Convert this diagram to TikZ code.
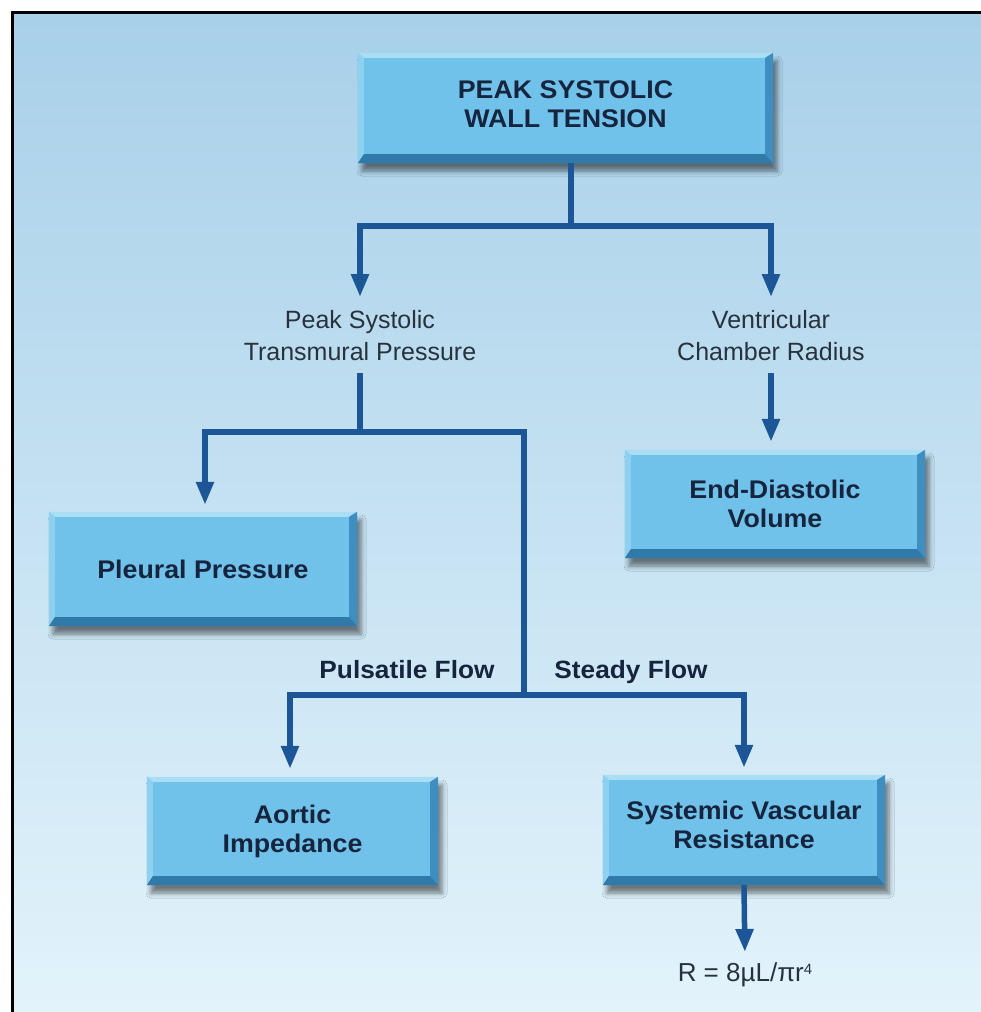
\documentclass[tikz,border=0pt]{standalone}
\usepackage{fontspec}
\setmainfont{Liberation Sans}[BoldFeatures={FakeStretch=1.05}]
\usetikzlibrary{arrows.meta,calc,shadows.blur}
\definecolor{bgtop}{RGB}{168,208,233}
\definecolor{bgbot}{RGB}{226,243,251}
\definecolor{face}{RGB}{112,194,234}
\definecolor{bvT}{RGB}{170,222,244}
\definecolor{bvL}{RGB}{142,208,240}
\definecolor{bvR}{RGB}{62,142,192}
\definecolor{bvB}{RGB}{48,122,170}
\definecolor{arrowc}{RGB}{28,86,150}
\definecolor{boxtext}{RGB}{22,36,62}
\definecolor{labtext}{RGB}{40,50,60}
\newcommand\bevel[1]{%
  \coordinate (#1-inw) at ($(#1.north west)+(6,5)$);
  \coordinate (#1-ine) at ($(#1.north east)+(-8,5)$);
  \coordinate (#1-ise) at ($(#1.south east)+(-8,-9)$);
  \coordinate (#1-isw) at ($(#1.south west)+(6,-9)$);
  \fill[bvT] (#1.north west) -- (#1.north east) -- (#1-ine) -- (#1-inw) -- cycle;
  \fill[bvL] (#1.north west) -- (#1-inw) -- (#1-isw) -- (#1.south west) -- cycle;
  \fill[bvR] (#1.north east) -- (#1.south east) -- (#1-ise) -- (#1-ine) -- cycle;
  \fill[bvB] (#1.south west) -- (#1-isw) -- (#1-ise) -- (#1.south east) -- cycle;
}
\tikzset{
  box/.style={fill=face, inner sep=0pt, align=center, text=boxtext,
    font=\fontsize{25.5}{29}\selectfont\bfseries,
    blur shadow={shadow xshift=4pt, shadow yshift=-8pt, shadow opacity=50, shadow blur radius=5pt}},
  lab/.style={inner sep=0pt, outer xsep=0pt, outer ysep=13pt, align=center, text=labtext,
    font=\fontsize{25}{32}\selectfont},
  flowlab/.style={inner sep=0pt, text=boxtext, font=\fontsize{25}{30}\selectfont\bfseries},
  conn/.style={line width=5.5pt, draw=arrowc, line join=miter},
  arr/.style={conn, -{Triangle[width=17pt,length=23pt]}}
}
\begin{document}
\begin{tikzpicture}[x=1pt,y=-1pt]
\useasboundingbox (0,0) rectangle (981,1012);
\shade[top color=bgtop, bottom color=bgbot] (12,12) rectangle (981,1012);
\draw[line width=3pt, black] (981,12.5) -- (12.5,12.5) -- (12.5,1012);

% boxes
\node[box, minimum width=415pt, minimum height=110pt, text depth=8pt] (pswt) at (565.5,108) {PEAK SYSTOLIC\\WALL TENSION};
\node[box, minimum width=300pt, minimum height=108pt] (edv) at (775,504) {End-Diastolic\\Volume};
\node[box, minimum width=308pt, minimum height=114pt] (pleural) at (203,569) {Pleural Pressure};
\node[box, minimum width=291pt, minimum height=108pt] (aortic) at (292.5,831) {Aortic\\Impedance};
\node[box, minimum width=282pt, minimum height=110pt, text depth=11pt] (svr) at (744,830) {Systemic Vascular\\Resistance};
\bevel{pswt}\bevel{edv}\bevel{pleural}\bevel{aortic}\bevel{svr}

% labels
\node[lab, anchor=north] (ptsl) at (360,297) {Peak Systolic\\Transmural Pressure};
\node[lab, anchor=north] (ventr) at (771,297) {Ventricular\\Chamber Radius};
\node[flowlab, anchor=base] (pulse) at (407,678) {Pulsatile Flow};
\node[flowlab, anchor=base] (steady) at (631,678) {Steady Flow};
\node[inner sep=0pt, anchor=base, text=labtext, font=\fontsize{26}{30}\selectfont] (formula) at (745,981)
  {R = 8µL/πr\raisebox{7pt}{\fontsize{15}{15}\selectfont 4}};

% junctions
\coordinate (j1) at (571,226);
\coordinate (j2) at (360,432);
\coordinate (j3) at (524,432);
\coordinate (j4) at (524,695);

% connectors
\draw[conn] (pswt.south -| j1) -- (j1);
\draw[arr] (j1) -| (ptsl.north);
\draw[arr] (j1) -| (ventr.north);
\draw[arr, shorten >=8pt] (ventr.south) -- (ventr.south |- edv.north);
\draw[conn] (ptsl.south) -- (j2);
\draw[arr, shorten >=7pt] (j2) -| ([xshift=2pt]pleural.north);
\draw[conn] (j2) -- (j3) -- (j4);
\draw[arr, shorten >=8pt] (j4) -| ([xshift=-2.5pt]aortic.north);
\draw[arr, shorten >=7pt] (j4) -| (svr.north);
\draw[arr, shorten >=10pt] (svr.south) -- (formula.north);
\end{tikzpicture}
\end{document}
